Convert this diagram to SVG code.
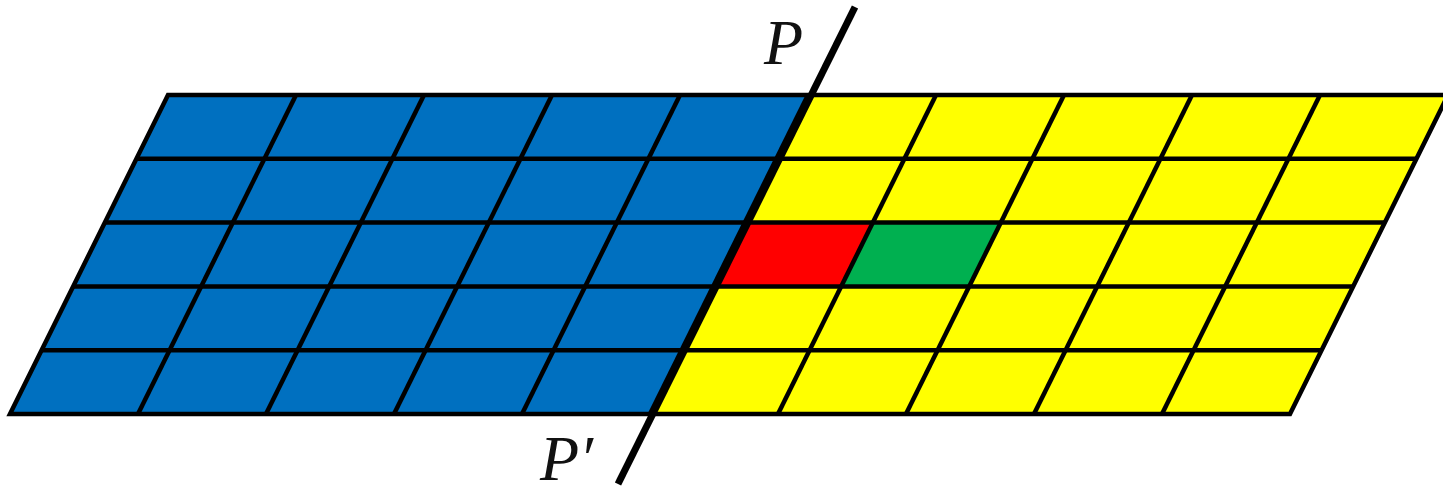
<svg xmlns="http://www.w3.org/2000/svg" width="1443" height="496" viewBox="0 0 1443 496">
  <style>
    .g { stroke: #000; stroke-width: 4.5; fill: none; }
    .lbl { font-family: "Liberation Serif", "DejaVu Serif", serif; font-style: italic; font-size: 64px; fill: #111; }
  </style>
  <rect width="1443" height="496" fill="#fff"/>
  <g id="fills">
    <polygon points="168,95 808,95 650,414 10,414" fill="#0070C0"/>
    <polygon points="808,95 1448,95 1290,414 650,414" fill="#FFFF00"/>
    <polygon id="red-cell" points="744.8,222.6 872.8,222.6 841.2,286.4 713.2,286.4" fill="#FF0000"/>
    <polygon id="green-cell" points="872.8,222.6 1000.8,222.6 969.2,286.4 841.2,286.4" fill="#00B050"/>
  </g>
  <g id="grid" class="g">
    <line x1="136.4" y1="158.8" x2="1416.4" y2="158.8"/>
    <line x1="104.8" y1="222.6" x2="1384.8" y2="222.6"/>
    <line x1="73.2" y1="286.4" x2="1353.2" y2="286.4"/>
    <line x1="41.6" y1="350.2" x2="1321.6" y2="350.2"/>
    <line x1="296" y1="95" x2="138" y2="414"/>
    <line x1="424" y1="95" x2="266" y2="414"/>
    <line x1="552" y1="95" x2="394" y2="414"/>
    <line x1="680" y1="95" x2="522" y2="414"/>
    <line x1="808" y1="95" x2="650" y2="414"/>
    <line x1="936" y1="95" x2="778" y2="414"/>
    <line x1="1064" y1="95" x2="906" y2="414"/>
    <line x1="1192" y1="95" x2="1034" y2="414"/>
    <line x1="1320" y1="95" x2="1162" y2="414"/>
    <polygon points="168,95 1448,95 1290,414 10,414" stroke-linejoin="miter"/>
  </g>
  <g id="connectors">
    <line id="line-P" x1="855" y1="7" x2="618" y2="484" stroke="#000" stroke-width="7"/>
  </g>
  <text class="lbl" x="764" y="64">P</text>
  <text class="lbl" x="540" y="480" font-size="60">P′</text>
</svg>
